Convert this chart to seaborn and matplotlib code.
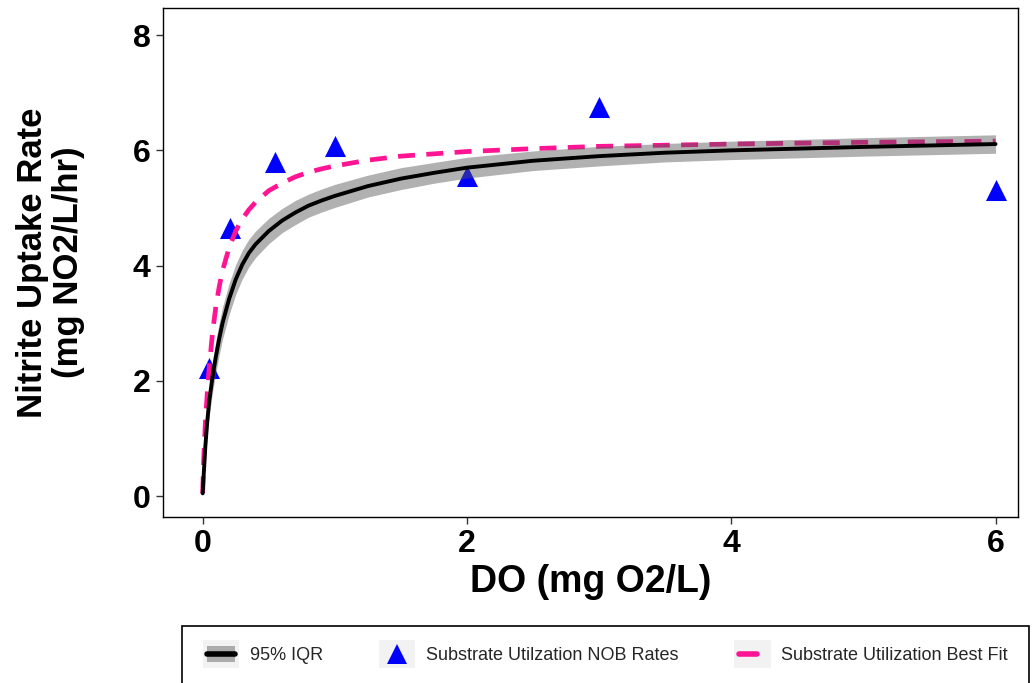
import numpy as np
import pandas as pd
import matplotlib
matplotlib.use("Agg")
import matplotlib.pyplot as plt
import seaborn as sns
from matplotlib.legend_handler import HandlerBase
from matplotlib.patches import Rectangle
from matplotlib.lines import Line2D

# ---- data ----
obs_do = [0.05, 0.21, 0.545, 1.0, 2.0, 3.0, 6.0]
obs_rate = [2.22, 4.66, 5.79, 6.07, 5.56, 6.75, 5.31]

curve_do = [0.0, 0.01, 0.02, 0.035, 0.05, 0.075, 0.1, 0.125, 0.15, 0.2, 0.25, 0.3,
            0.35, 0.4, 0.5, 0.6, 0.7, 0.8, 0.9, 1.0, 1.25, 1.5, 1.75, 2.0, 2.5,
            3.0, 3.5, 4.0, 5.0, 6.0]
median_rate = [0.05, 0.45, 0.85, 1.30, 1.65, 2.08, 2.42, 2.73, 3.00, 3.42, 3.76, 4.02,
               4.22, 4.37, 4.60, 4.78, 4.92, 5.04, 5.13, 5.21, 5.38, 5.51, 5.61, 5.70,
               5.82, 5.90, 5.96, 6.00, 6.06, 6.11]
iqr_low = [0.03, 0.35, 0.65, 1.08, 1.40, 1.81, 2.14, 2.45, 2.72, 3.15, 3.50, 3.77,
           3.98, 4.14, 4.38, 4.57, 4.71, 4.84, 4.93, 5.01, 5.19, 5.32, 5.43, 5.52,
           5.65, 5.73, 5.80, 5.84, 5.90, 5.95]
iqr_high = [0.07, 0.55, 1.05, 1.52, 1.90, 2.35, 2.70, 3.01, 3.28, 3.69, 4.02, 4.27,
            4.46, 4.60, 4.82, 4.99, 5.13, 5.24, 5.33, 5.41, 5.57, 5.70, 5.79, 5.88,
            5.99, 6.07, 6.12, 6.16, 6.22, 6.27]
fit_rate = [0.05, 0.75, 1.25, 1.80, 2.25, 2.84, 3.29, 3.63, 3.91, 4.31, 4.60, 4.81,
            4.97, 5.10, 5.30, 5.43, 5.54, 5.62, 5.68, 5.73, 5.83, 5.90, 5.94, 5.98,
            6.03, 6.07, 6.09, 6.11, 6.14, 6.16]

x_ticks = [0, 2, 4, 6]
y_ticks = [0, 2, 4, 6, 8]
x_label = "DO (mg O2/L)"
y_label = "Nitrite Uptake Rate\n(mg NO2/L/hr)"
legend_labels = ["95% IQR", "Substrate Utilzation NOB Rates", "Substrate Utilization Best Fit"]

BLUE = "#0000FF"
PINK = "#FF1493"
BAND = "#555555"

sns.set_theme(style="white")
plt.rcParams["font.family"] = ["Liberation Sans", "DejaVu Sans"]

obs = pd.DataFrame({"do": obs_do, "rate": obs_rate})
curves = pd.DataFrame({"do": curve_do, "med": median_rate, "lo": iqr_low,
                       "hi": iqr_high, "fit": fit_rate})

W, H = 1032, 683
fig = plt.figure(figsize=(W / 100, H / 100), dpi=100)
ax = fig.add_axes([163 / W, 1 - 517 / H, (1018 - 163) / W, (517 - 8) / H])

sns.scatterplot(data=obs, x="do", y="rate", marker="^", s=230, color=BLUE,
                linewidth=0, ax=ax, zorder=2)
sns.lineplot(data=curves, x="do", y="fit", color=PINK, lw=3.4, ax=ax, zorder=3,
             estimator=None, sort=False)
ax.lines[-1].set_dashes([3.6, 2.4])
ax.fill_between(curves["do"], curves["lo"], curves["hi"], color=BAND, alpha=0.46,
                linewidth=0, zorder=4)
sns.lineplot(data=curves, x="do", y="med", color="black", lw=2.8, ax=ax, zorder=5,
             estimator=None, sort=False)

ax.set_xlim(-0.30, 6.17)
ax.set_ylim(-0.36, 8.47)
ax.set_xticks(x_ticks)
ax.set_yticks(y_ticks)
ax.set_xticklabels([str(t) for t in x_ticks])
ax.set_yticklabels([str(t) for t in y_ticks])
ax.tick_params(axis="both", which="major", labelsize=23, length=5, width=1,
               color="#333333", direction="out", bottom=True, left=True, pad=4)
for lab in ax.get_xticklabels() + ax.get_yticklabels():
    lab.set_fontweight("bold")
    lab.set_color("black")
for sp in ax.spines.values():
    sp.set_color("black")
    sp.set_linewidth(1.0)
ax.set_xlabel(x_label, fontsize=27, fontweight="bold", color="black", labelpad=3)
ax.set_ylabel(y_label, fontsize=25, fontweight="bold", color="black", labelpad=34,
              linespacing=1.15)
ax.grid(False)


class KeyHandler(HandlerBase):
    def __init__(self, kind):
        super().__init__()
        self.kind = kind

    def create_artists(self, legend, orig_handle, xdescent, ydescent, width,
                       height, fontsize, trans):
        x0, y0 = -xdescent, -ydescent
        arts = [Rectangle((x0, y0), width, height, facecolor="#F2F2F2",
                          edgecolor="none", transform=trans)]
        cx, cy = x0 + width / 2, y0 + height / 2
        if self.kind == "iqr":
            arts.append(Rectangle((x0 + 3, cy - 6), width - 6, 12, facecolor="#ABABAB",
                                  edgecolor="none", transform=trans))
            arts.append(Line2D([x0 + 3, x0 + width - 3], [cy, cy], color="black",
                               lw=4, transform=trans))
        elif self.kind == "pts":
            arts.append(Line2D([cx], [cy], marker="^", markersize=15, color=BLUE,
                               markeredgewidth=0, linestyle="none", transform=trans))
        else:
            arts.append(Line2D([x0 + 3, x0 + width - 10], [cy, cy], color=PINK,
                               lw=4, transform=trans))
        return arts


class H1: pass
class H2: pass
class H3: pass


# legend frame (bottom edge falls outside the figure, as in the reference)
fig.patches.append(Rectangle((182 / W, -0.05), (1029 - 182) / W, 0.05 + 1 - 626 / H,
                             transform=fig.transFigure, facecolor="white",
                             edgecolor="black", linewidth=1.2, zorder=0))

handles = [H1(), H2(), H3()]
leg = fig.legend(handles, legend_labels, ncol=3, loc="upper left",
                 bbox_to_anchor=(203 / W, 1 - 640 / H),
                 handler_map={H1: KeyHandler("iqr"), H2: KeyHandler("pts"),
                              H3: KeyHandler("fit")},
                 fontsize=13, frameon=False,
                 handlelength=2.0, handleheight=2.0, handletextpad=0.6,
                 columnspacing=3.1, borderpad=0, borderaxespad=0)

fig.savefig("out.png", dpi=100)
